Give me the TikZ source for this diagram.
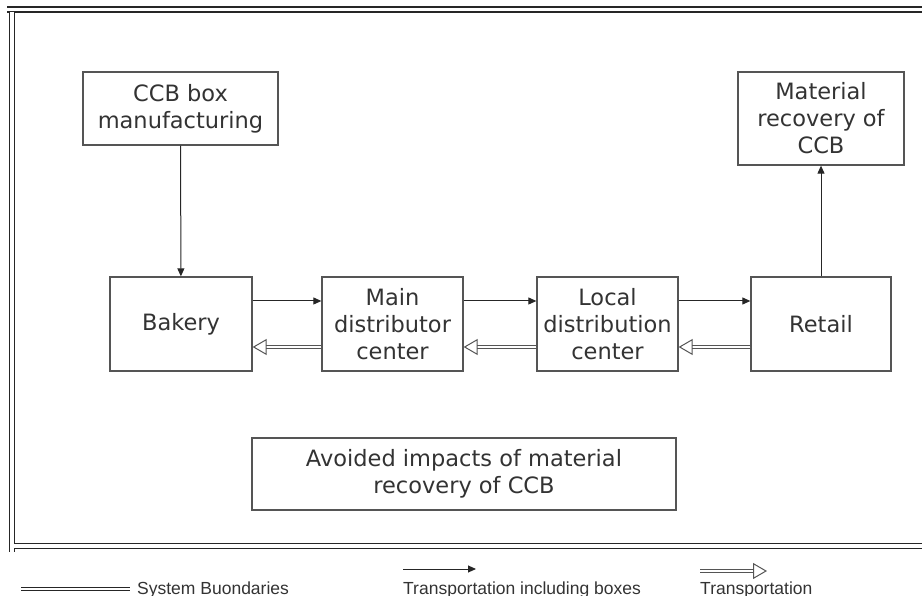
\documentclass[tikz,border=0pt]{standalone}
\usepackage{fontspec}
\usetikzlibrary{arrows.meta}
\newfontfamily\boxfont{DejaVu Sans}
\newfontfamily\legfont{Liberation Sans}
\definecolor{linegray}{RGB}{85,85,85}
\definecolor{textgray}{RGB}{51,51,51}

\begin{document}
\begin{tikzpicture}[x=1pt, y=-1pt,
    box/.style={draw=linegray, line width=1.3pt, align=center, inner sep=1pt,
        text=textgray, font=\boxfont\fontsize{22.5}{27}\selectfont},
    fwd/.style={draw=black!85, line width=1pt, -{Triangle[length=8pt,width=7pt]}},
    back/.style={draw=linegray, line width=1pt, double, double distance=2.4pt,
        -{Triangle[open,length=14pt,width=16pt]}},
    boundary/.style={draw=black!85, line width=1.4pt, double, double distance=3.5pt},
    legend/.style={font=\legfont\fontsize{17.5}{21}\selectfont, text=textgray,
        anchor=base west, inner sep=0pt}]
    \useasboundingbox (0,0) rectangle (922,596);
    % system boundary
    \draw[boundary] (7,9.5) -- (922,9.5);
    \draw[boundary] (12,12) -- (12,552);
    \draw[boundary] (14,546) -- (922,546);
    % process boxes
    \node[box, minimum width=195pt, minimum height=73pt] (ccb) at (180.5,108.5) {CCB box\\manufacturing};
    \node[box, minimum width=166pt, minimum height=93pt] (recovery) at (821,118.5) {Material\\recovery of\\CCB};
    \node[box, minimum width=142pt, minimum height=94pt] (bakery) at (181,324) {Bakery};
    \node[box, minimum width=141pt, minimum height=94pt] (maindc) at (392.5,324) {Main\\distributor\\center};
    \node[box, minimum width=141pt, minimum height=94pt] (localdc) at (607.5,324) {Local\\distribution\\center};
    \node[box, minimum width=140pt, minimum height=94pt] (retail) at (821,324) {Retail};
    \node[box, minimum width=424pt, minimum height=72pt] (avoided) at (464,474) {Avoided impacts of material\\recovery of CCB};
    % flows
    \draw[fwd] (ccb) -- (bakery);
    \draw[fwd] (retail) -- (recovery);
    \draw[fwd] ([yshift=23pt]bakery.east) -- ([yshift=23pt]maindc.west);
    \draw[fwd] ([yshift=23pt]maindc.east) -- ([yshift=23pt]localdc.west);
    \draw[fwd] ([yshift=23pt]localdc.east) -- ([yshift=23pt]retail.west);
    \draw[back] ([yshift=-23pt]maindc.west) -- ([yshift=-23pt]bakery.east);
    \draw[back] ([yshift=-23pt]localdc.west) -- ([yshift=-23pt]maindc.east);
    \draw[back] ([yshift=-23pt]retail.west) -- ([yshift=-23pt]localdc.east);
    % legend
    \node[legend] (lgsys) at (137,594) {System Buondaries};
    \node[legend] (lgfwd) at (403,594) {Transportation including boxes};
    \node[legend] (lgback) at (700,594) {Transportation};
    \coordinate (lgsysA) at (21,588.5);
    \coordinate (lgfwdA) at (403,569);
    \coordinate (lgfwdB) at (476,569);
    \coordinate (lgbackA) at (700,571);
    \coordinate (lgbackB) at (767,571);
    \draw[boundary, line width=1pt, double distance=2pt] (lgsysA) -- ([xshift=-7pt]lgsys.west |- lgsysA);
    \draw[fwd] (lgfwdA) -- (lgfwdB);
    \draw[back] (lgbackA) -- (lgbackB);
\end{tikzpicture}
\end{document}
